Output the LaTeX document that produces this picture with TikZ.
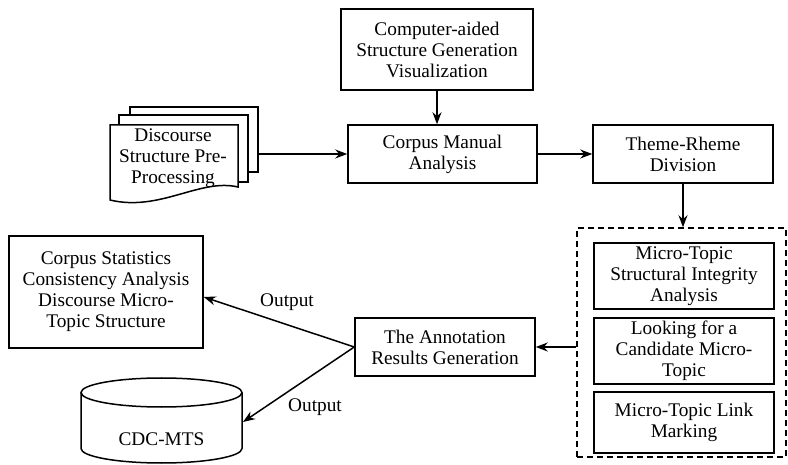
\documentclass[tikz,border=0pt]{standalone}
\usepackage{fontspec}
\setmainfont{Liberation Serif}
\newfontfamily\tnr{Liberation Serif}
\usetikzlibrary{arrows.meta}
\begin{document}
\begin{tikzpicture}[x=1pt,y=-1pt,
  every node/.style={font=\tnr\fontsize{19.3}{21}\selectfont},
  box/.style={draw, line width=1.5pt, align=center, inner sep=0pt, fill=white},
  arr/.style={line width=1.5pt, -{Stealth[length=12pt,width=9pt]}},
  shp/.style={draw, line width=1.5pt, fill=white}
]
\useasboundingbox (0,0) rectangle (788,465);

% document stack
\draw[shp] (130,107) rectangle (258,172);
\draw[shp] (119,115) rectangle (248,182);
\draw[shp] (110,125) -- (238,125) -- (238,187)
  .. controls (200,178) and (160,212) .. (110,200) -- cycle;
\node[align=center, inner sep=0pt] (doc) at (173,158) {Discourse\\Structure Pre-\\Processing};
\coordinate (docR) at (258,154);

% top row
\node[box, minimum width=192, minimum height=81] (cad) at (437,49.5) {Computer-aided\\Structure Generation\\Visualization};
\node[box, minimum width=189, minimum height=58] (corpus) at (442.5,154) {Corpus Manual\\Analysis};
\node[box, minimum width=180, minimum height=58] (theme) at (683,154) {Theme-Rheme\\Division};

% dashed group
\node[draw, line width=1.5pt, dash pattern=on 6pt off 4pt, minimum width=209, minimum height=229, inner sep=0pt] (grp) at (681.5,342.5) {};
\node[box, minimum width=180, minimum height=66] (b1) at (684,276) {Micro-Topic\\Structural Integrity\\Analysis};
\node[box, minimum width=180, minimum height=66] (b2) at (684,351) {Looking for a\\Candidate Micro-\\Topic};
\node[box, minimum width=180, minimum height=61] (b3) at (684,422.5) {Micro-Topic Link\\Marking};

% bottom
\node[box, minimum width=180, minimum height=58] (annot) at (445,347) {The Annotation\\Results Generation};
\node[box, minimum width=194, minimum height=112] (stats) at (106,292) {Corpus Statistics\\Consistency Analysis\\Discourse Micro-\\Topic Structure};

% cylinder
\draw[shp] (81,392.5) -- (81,448.5)
  .. controls (81,456.5) and (117,463) .. (161.5,463)
  .. controls (206,463) and (242,456.5) .. (242,448.5) -- (242,392.5);
\draw[line width=1.5pt] (161.5,392.5) ellipse [x radius=80.5, y radius=14.5];
\node[inner sep=0pt] (db) at (161.5,439) {CDC-MTS};
\coordinate (dbR) at (243,422);

% connectors
\draw[arr] (docR) -- (corpus.west);
\draw[arr] (cad.south) -- (cad.south |- corpus.north);
\draw[arr] (corpus.east) -- (theme.west);
\draw[arr] (theme.south) -- (theme.south |- grp.north);
\draw[arr] (grp.west |- annot.east) -- (annot.east);
\draw[arr] (annot.west) -- ([yshift=-5pt]stats.east);
\draw[arr] (annot.west) -- (dbR);

\node (o1) at (287,302) {Output};
\node (o2) at (315,407) {Output};
\end{tikzpicture}
\end{document}
